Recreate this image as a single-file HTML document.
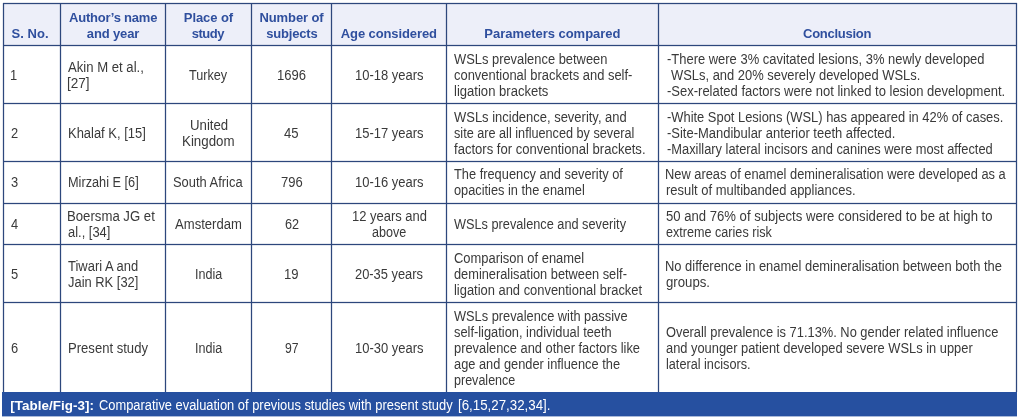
<!DOCTYPE html>
<html lang="en"><head><meta charset="utf-8"><title>Table/Fig-3</title>
<style>
html,body{margin:0;padding:0;background:#fff;}
body{width:1020px;height:420px;position:relative;overflow:hidden;font-family:"Liberation Sans",sans-serif;}
.t{position:absolute;white-space:pre;line-height:16px;height:16px;transform-origin:0 0;}
.h{font-weight:bold;font-size:13.0px;color:#2f4f9e;}
.b{font-size:14.0px;color:#3a3a3a;}
.cb{font-weight:bold;font-size:13.4px;color:#ffffff;}
.c{font-size:14.0px;color:#ffffff;}
.v,.hl{position:absolute;background:#2d477c;}
.v{box-shadow:-1px 0 0 rgba(45,71,124,.13),1px 0 0 rgba(45,71,124,.13);}
.hl{box-shadow:0 -1px 0 rgba(45,71,124,.13),0 1px 0 rgba(45,71,124,.13);}
.v{width:1px;top:3px;height:389px;}
.hl{height:1px;left:3px;width:1014px;}
#hbg{position:absolute;left:3px;top:3px;width:1014px;height:42px;background:#edeff9;}
#bar{position:absolute;left:2px;top:392px;width:1015px;height:24px;background:#2650a0;border-bottom:1px solid #a8b9d9;}
</style></head><body>

<div id="hbg"></div>
<div class="v" style="left:3px"></div>
<div class="v" style="left:60px"></div>
<div class="v" style="left:165px"></div>
<div class="v" style="left:251px"></div>
<div class="v" style="left:331px"></div>
<div class="v" style="left:446px"></div>
<div class="v" style="left:658px"></div>
<div class="v" style="left:1016px"></div>
<div class="hl" style="top:3px"></div>
<div class="hl" style="top:45px"></div>
<div class="hl" style="top:103px"></div>
<div class="hl" style="top:161px"></div>
<div class="hl" style="top:203px"></div>
<div class="hl" style="top:244px"></div>
<div class="hl" style="top:302px"></div>
<div id="bar"></div>
<span class="t h" style="left:11.50px;top:26px;letter-spacing:0.055px;">S. No.</span>
<span class="t h" style="left:69.00px;top:10px;letter-spacing:-0.215px;">Author’s name</span>
<span class="t h" style="left:86.80px;top:26px;letter-spacing:-0.131px;">and year</span>
<span class="t h" style="left:183.80px;top:10px;letter-spacing:-0.075px;">Place of</span>
<span class="t h" style="left:191.80px;top:26px;letter-spacing:-0.500px;">study</span>
<span class="t h" style="left:259.50px;top:10px;letter-spacing:-0.109px;">Number of</span>
<span class="t h" style="left:266.30px;top:26px;letter-spacing:-0.188px;">subjects</span>
<span class="t h" style="left:340.80px;top:26px;letter-spacing:-0.106px;">Age considered</span>
<span class="t h" style="left:484.30px;top:26px;letter-spacing:-0.024px;">Parameters compared</span>
<span class="t h" style="left:803.00px;top:26px;letter-spacing:-0.259px;">Conclusion</span>
<span class="t b" style="left:9.86px;top:67px;transform:scaleX(0.9200);">1</span>
<span class="t b" style="left:68.00px;top:59px;transform:scaleX(0.9372);">Akin M et al.,</span>
<span class="t b" style="left:67.03px;top:75px;transform:scaleX(0.9692);">[27]</span>
<span class="t b" style="left:189.30px;top:67px;transform:scaleX(0.9038);">Turkey</span>
<span class="t b" style="left:277.07px;top:67px;transform:scaleX(0.9322);">1696</span>
<span class="t b" style="left:354.57px;top:67px;transform:scaleX(0.9255);">10-18 years</span>
<span class="t b" style="left:454.30px;top:51px;transform:scaleX(0.9213);">WSLs prevalence between</span>
<span class="t b" style="left:454.30px;top:67px;transform:scaleX(0.9243);">conventional brackets and self-</span>
<span class="t b" style="left:454.30px;top:83px;transform:scaleX(0.9331);">ligation brackets</span>
<span class="t b" style="left:667.00px;top:51px;transform:scaleX(0.9252);">-There were 3% cavitated lesions, 3% newly developed</span>
<span class="t b" style="left:671.30px;top:67px;transform:scaleX(0.9230);">WSLs, and 20% severely developed WSLs.</span>
<span class="t b" style="left:667.00px;top:83px;transform:scaleX(0.9284);">-Sex-related factors were not linked to lesion development.</span>
<span class="t b" style="left:10.97px;top:125px;transform:scaleX(0.9200);">2</span>
<span class="t b" style="left:67.58px;top:125px;transform:scaleX(0.9250);">Khalaf K, [15]</span>
<span class="t b" style="left:189.56px;top:117px;transform:scaleX(0.9436);">United</span>
<span class="t b" style="left:182.35px;top:133px;transform:scaleX(0.9516);">Kingdom</span>
<span class="t b" style="left:284.30px;top:125px;transform:scaleX(0.9375);">45</span>
<span class="t b" style="left:354.57px;top:125px;transform:scaleX(0.9255);">15-17 years</span>
<span class="t b" style="left:454.30px;top:109px;transform:scaleX(0.9262);">WSLs incidence, severity, and</span>
<span class="t b" style="left:454.30px;top:125px;transform:scaleX(0.9050);">site are all influenced by several</span>
<span class="t b" style="left:454.30px;top:141px;transform:scaleX(0.9323);">factors for conventional brackets.</span>
<span class="t b" style="left:667.00px;top:109px;transform:scaleX(0.9215);">-White Spot Lesions (WSL) has appeared in 42% of cases.</span>
<span class="t b" style="left:667.00px;top:125px;transform:scaleX(0.9265);">-Site-Mandibular anterior teeth affected.</span>
<span class="t b" style="left:667.00px;top:141px;transform:scaleX(0.9187);">-Maxillary lateral incisors and canines were most affected</span>
<span class="t b" style="left:10.97px;top:174px;transform:scaleX(0.9200);">3</span>
<span class="t b" style="left:67.59px;top:174px;transform:scaleX(0.9090);">Mirzahi E [6]</span>
<span class="t b" style="left:173.30px;top:174px;transform:scaleX(0.9219);">South Africa</span>
<span class="t b" style="left:280.80px;top:174px;transform:scaleX(0.9291);">796</span>
<span class="t b" style="left:354.57px;top:174px;transform:scaleX(0.9255);">10-16 years</span>
<span class="t b" style="left:454.30px;top:166px;transform:scaleX(0.9158);">The frequency and severity of</span>
<span class="t b" style="left:454.30px;top:182px;transform:scaleX(0.9134);">opacities in the enamel</span>
<span class="t b" style="left:665.38px;top:166px;transform:scaleX(0.9179);">New areas of enamel demineralisation were developed as a</span>
<span class="t b" style="left:666.30px;top:182px;transform:scaleX(0.9259);">result of multibanded appliances.</span>
<span class="t b" style="left:10.97px;top:216px;transform:scaleX(0.9200);">4</span>
<span class="t b" style="left:67.06px;top:208px;transform:scaleX(0.9408);">Boersma JG et</span>
<span class="t b" style="left:68.00px;top:224px;transform:scaleX(0.9217);">al., [34]</span>
<span class="t b" style="left:175.00px;top:216px;transform:scaleX(0.9350);">Amsterdam</span>
<span class="t b" style="left:284.50px;top:216px;transform:scaleX(0.9059);">62</span>
<span class="t b" style="left:351.57px;top:208px;transform:scaleX(0.9260);">12 years and</span>
<span class="t b" style="left:371.80px;top:224px;transform:scaleX(0.8994);">above</span>
<span class="t b" style="left:454.30px;top:216px;transform:scaleX(0.9096);">WSLs prevalence and severity</span>
<span class="t b" style="left:666.30px;top:208px;transform:scaleX(0.9364);">50 and 76% of subjects were considered to be at high to</span>
<span class="t b" style="left:666.30px;top:224px;transform:scaleX(0.9007);">extreme caries risk</span>
<span class="t b" style="left:10.97px;top:266px;transform:scaleX(0.9200);">5</span>
<span class="t b" style="left:68.00px;top:258px;transform:scaleX(0.9255);">Tiwari A and</span>
<span class="t b" style="left:68.00px;top:274px;transform:scaleX(0.9221);">Jain RK [32]</span>
<span class="t b" style="left:194.60px;top:266px;transform:scaleX(0.8961);">India</span>
<span class="t b" style="left:284.07px;top:266px;transform:scaleX(0.9333);">19</span>
<span class="t b" style="left:355.00px;top:266px;transform:scaleX(0.9198);">20-35 years</span>
<span class="t b" style="left:454.30px;top:250px;transform:scaleX(0.9237);">Comparison of enamel</span>
<span class="t b" style="left:454.30px;top:266px;transform:scaleX(0.9143);">demineralisation between self-</span>
<span class="t b" style="left:454.30px;top:282px;transform:scaleX(0.9224);">ligation and conventional bracket</span>
<span class="t b" style="left:665.38px;top:258px;transform:scaleX(0.9237);">No difference in enamel demineralisation between both the</span>
<span class="t b" style="left:666.30px;top:274px;transform:scaleX(0.9431);">groups.</span>
<span class="t b" style="left:10.97px;top:340px;transform:scaleX(0.9200);">6</span>
<span class="t b" style="left:67.57px;top:340px;transform:scaleX(0.9338);">Present study</span>
<span class="t b" style="left:194.60px;top:340px;transform:scaleX(0.8961);">India</span>
<span class="t b" style="left:284.50px;top:340px;transform:scaleX(0.8742);">97</span>
<span class="t b" style="left:354.57px;top:340px;transform:scaleX(0.9255);">10-30 years</span>
<span class="t b" style="left:454.30px;top:308px;transform:scaleX(0.9138);">WSLs prevalence with passive</span>
<span class="t b" style="left:454.30px;top:324px;transform:scaleX(0.9170);">self-ligation, individual teeth</span>
<span class="t b" style="left:454.30px;top:340px;transform:scaleX(0.9193);">prevalence and other factors like</span>
<span class="t b" style="left:454.30px;top:356px;transform:scaleX(0.9153);">age and gender influence the</span>
<span class="t b" style="left:454.30px;top:372px;transform:scaleX(0.8952);">prevalence</span>
<span class="t b" style="left:666.30px;top:324px;transform:scaleX(0.9183);">Overall prevalence is 71.13%. No gender related influence</span>
<span class="t b" style="left:666.30px;top:340px;transform:scaleX(0.9185);">and younger patient developed severe WSLs in upper</span>
<span class="t b" style="left:666.30px;top:356px;transform:scaleX(0.9051);">lateral incisors.</span>
<span class="t cb" style="left:10.30px;top:398px;letter-spacing:0.046px;">[Table/Fig-3]:</span>
<span class="t c" style="left:99.40px;top:397px;transform:scaleX(0.9198);">Comparative evaluation of previous studies with present study</span>
<span class="t c" style="left:457.85px;top:397px;transform:scaleX(0.9506);">[6,15,27,32,34].</span>
</body></html>
